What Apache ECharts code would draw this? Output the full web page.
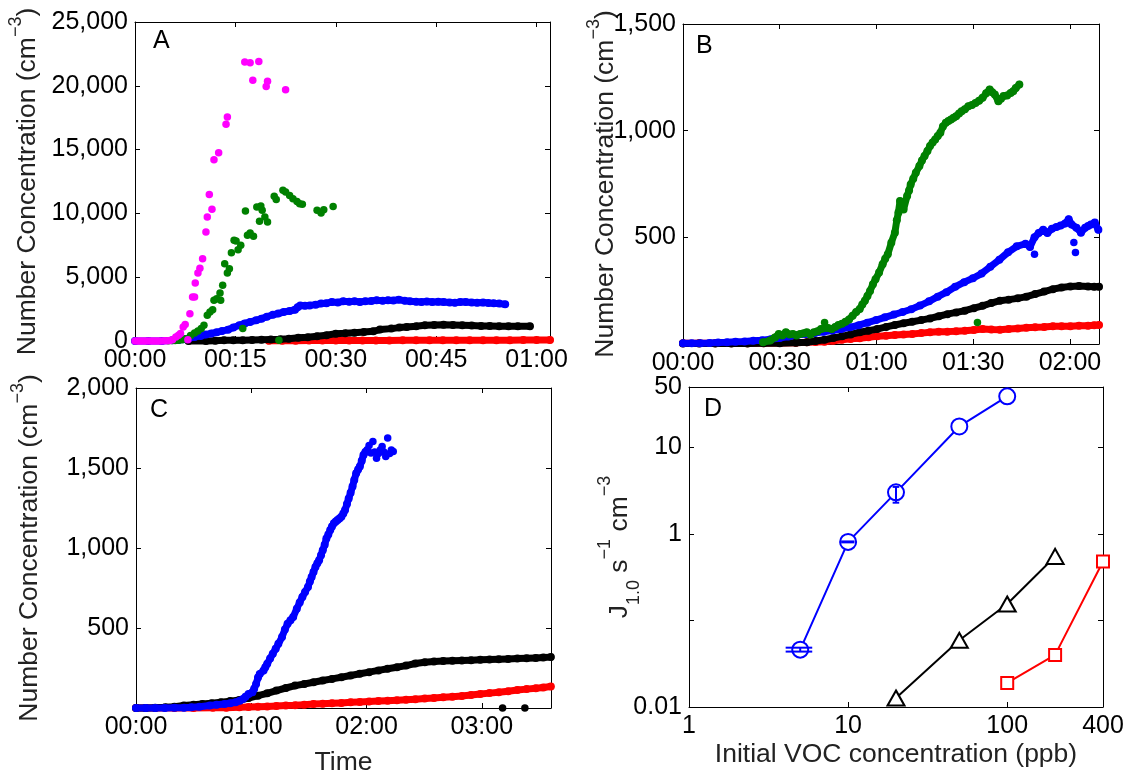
<!DOCTYPE html>
<html><head><meta charset="utf-8">
<script src="https://cdn.jsdelivr.net/npm/echarts@6/dist/echarts.min.js"></script>
<style>html,body{margin:0;padding:0;background:#fff}#c{width:1128px;height:770px}</style>
</head><body><div id="c"></div>
<script>
// ---------- DATA (time in minutes, concentration in cm^-3) ----------
const A_magenta = [[0,0],[0.4,0],[0.8,0],[1.2,0],[1.6,0],[2,0],[2.4,0],[2.8,0],[3.2,0],[3.6,0],[4,0],[4.4,10],[4.8,20],[5.2,40],[5.6,90],[6.1,310],[6.5,450],[6.8,580],[7.2,1100],[7.5,1300],[7.9,100],[8.2,2140],[8.6,3450],[8.9,3450],[9.0,4550],[9.4,5330],[9.7,5700],[10.1,6450],[10.6,8540],[10.8,9720],[11.1,11490],[11.5,10320],[11.8,14200],[12.5,14760],[13.6,16980],[13.8,17550],[16.4,21860],[17.2,21810],[17.6,20430],[18.5,21910],[19.6,19950],[19.8,20350],[22.5,19700]];
const A_green = [[5,20],[5.5,30],[6,40],[6.5,60],[7,100],[7.5,180],[8.3,440],[8.9,630],[9.4,780],[9.9,970],[10.3,1230],[10.8,2010],[11.2,2270],[11.6,2450],[11.8,3190],[12.2,3320],[12.7,3760],[12.8,3190],[13.1,4360],[13.4,6060],[13.8,5330],[14.1,5670],[14.4,6920],[14.8,7890],[15.1,7840],[15.4,7160],[15.8,7500],[16.1,970],[16.5,10190],[16.8,8280],[17.2,8460],[17.7,8200],[18.2,10500],[18.6,9380],[18.8,10580],[19.0,10240],[19.4,9720],[19.8,9330],[20.8,11340],[21.1,11080],[21.5,50],[22.1,11810],[22.5,11680],[23.1,11410],[23.6,11150],[24.2,10940],[24.6,10760],[25.0,10710],[27.2,10240],[27.8,10030],[28.2,10290],[29.6,10550]];
const A_blue = [[0,0],[2,0],[4,0],[5.6,50],[6.5,80],[7.2,130],[8,200],[8.9,310],[9.8,400],[10.6,500],[11.4,590],[12.2,680],[13,780],[13.9,890],[14.7,1050],[15.6,1230],[16.4,1380],[17.2,1490],[18.1,1620],[18.9,1750],[19.7,1900],[20.6,2060],[21.4,2150],[22.2,2270],[23.1,2350],[23.9,2450],[24.3,2650],[24.7,2790],[25.4,2760],[26.1,2790],[27,2850],[27.8,2930],[28.6,2950],[29.4,3060],[30.3,3020],[31.1,3110],[32,3080],[32.8,3110],[33.6,3060],[34.4,3110],[35.3,3130],[36.1,3190],[37,3150],[37.8,3190],[38.6,3180],[39.4,3240],[40.3,3150],[41.1,3110],[42,3080],[42.8,3060],[43.6,3100],[44.4,3060],[45.3,3080],[46.1,3060],[47,3020],[47.8,3000],[48.6,3050],[49.4,3060],[50.3,3020],[51.1,3000],[52,3020],[52.8,2980],[53.6,2950],[54.4,2930],[55.3,2880]];
const A_black = [[8,0],[10.6,0],[12,20],[13.3,50],[14.7,50],[16.1,50],[17.5,80],[18.9,100],[20.3,110],[21.7,130],[23,180],[24.4,260],[25.8,300],[27.2,370],[28.6,450],[30,575],[31.4,600],[32.8,650],[34.2,700],[35.6,760],[36.6,900],[38.3,970],[39.5,1050],[40.6,1100],[42,1150],[43.3,1230],[44.7,1250],[46.1,1280],[47.5,1250],[48.9,1230],[50.3,1210],[51.7,1180],[53,1170],[54.4,1150],[55.8,1150],[57.2,1160],[59,1150]];
const A_red = [[20,10],[22,20],[24,20],[26,30],[28,30],[30,30],[32,40],[34,40],[36,40],[38,40],[40,50],[42,50],[44,50],[46,50],[48,60],[50,60],[52,60],[54,60],[56,60],[58,70],[60,70],[62,70]];

const B_green = [[24.8,8],[27.0,16],[28.5,30],[29.7,47],[30.8,40],[31.9,55],[33,45],[34.1,47],[35.2,40],[36.3,47],[37.4,50],[38.4,55],[39.5,45],[40.6,55],[41.7,60],[42.8,70],[45,75],[46.1,70],[47.2,80],[48.2,89],[49.3,95],[50.4,104],[51.5,115],[52.6,133],[53.7,150],[54.8,164],[55.6,185],[56.4,203],[57.2,225],[58.0,249],[58.9,280],[59.7,304],[60.8,335],[61.9,374],[62.7,400],[63.5,421],[64.6,475],[65.7,522],[66.3,580],[66.8,616],[67.3,670],[68.4,631],[69.5,694],[70.1,720],[70.6,748],[71.4,775],[72.2,803],[73.3,834],[74.1,860],[74.9,881],[75.8,905],[76.6,928],[77.4,945],[78.2,959],[79.0,975],[79.8,990],[80.6,1020],[81.5,1037],[82.3,1045],[83.1,1052],[83.9,1060],[84.7,1068],[85.6,1080],[86.4,1091],[87.4,1100],[88.5,1115],[89.6,1120],[90.7,1130],[91.8,1140],[92.9,1154],[94,1175],[95.1,1193],[95.9,1180],[96.7,1169],[97.8,1138],[98.6,1150],[99.4,1162],[100.5,1165],[101.6,1177],[102.4,1185],[103.2,1200],[104.3,1216]];
const B_green_out = [[43.9,101],[91.3,101]];
const B_blue = [[0,3],[2.7,3],[5.4,4],[8.2,5],[10.9,7],[13.6,8],[16.3,10],[19.1,12],[21.8,15],[24.5,18],[27.2,22],[30,28],[32.7,35],[35.4,42],[38.1,47],[40.9,52],[43.6,57],[46.3,63],[49,70],[51.8,78],[54.5,88],[57.2,100],[59.9,112],[62.6,125],[65.4,138],[68.1,150],[70.8,163],[73.5,180],[76.3,200],[79,222],[81.7,243],[84.4,268],[87.2,290],[89.9,308],[92.6,330],[95.3,362],[98.1,395],[100.8,430],[103.5,458],[106.2,470],[107.6,455],[109,500],[110.3,520],[111.7,535],[113,520],[114.4,540],[115.8,548],[117.1,555],[118.5,565],[119.6,585],[120.5,560],[122,545],[123.4,522],[124.7,545],[125.6,553],[126.5,560],[127.7,569],[128.8,535]];
const B_blue_out = [[109,421],[121.2,476],[121.7,429]];
const B_black = [[0,2],[5,2],[10,2],[15,2],[20,2],[25,3],[30,4],[35,6],[38.4,8],[41.1,14],[43.9,20],[46.6,28],[49.3,36],[52,45],[54.8,55],[57.5,62],[60.2,70],[63,80],[65.7,89],[68.4,97],[71.1,104],[73.9,112],[76.6,120],[79.3,130],[82,140],[84.7,148],[87.4,156],[90.2,168],[92.9,179],[95.6,192],[98.3,203],[101,208],[103.8,214],[106.5,222],[109.2,234],[112,246],[114.7,257],[117.4,265],[120.1,270],[122.8,272],[125.6,270],[127.5,268],[129,268]];
const B_red = [[0,3],[5,3],[10,3],[15,3],[20,4],[25,4],[30,5],[35,6],[38.4,8],[41.1,9],[43.9,11],[46.6,15],[49.3,20],[52,24],[54.8,27],[57.5,32],[60.2,36],[63,39],[65.7,42],[68.4,45],[71.1,47],[73.9,51],[76.6,55],[79.3,57],[82,58],[84.7,60],[87.4,62],[90.2,66],[92.9,70],[95.6,68],[98.3,67],[101,70],[103.8,73],[106.5,76],[109.2,78],[112,80],[114.7,83],[117.4,83],[120.1,83],[122.8,85],[125.6,86],[127.5,88],[129,89]];

const C_blue = [[0,0],[5,0],[10,0],[15,0],[20,1],[25,2],[28.7,4],[33,8],[38.4,15],[42,20],[46.1,25],[49,30],[51.9,36],[54,45],[55.7,56],[57,70],[58.6,88],[60.6,98],[61.5,120],[62.5,150],[63.5,190],[64.4,213],[66.4,234],[67.3,255],[68.3,276],[69.8,310],[71.2,339],[72.7,370],[74.1,401],[76,443],[77.5,490],[78.9,527],[80.4,548],[81.8,568],[83.7,621],[85.2,660],[86.6,694],[88,725],[89.5,757],[90.5,790],[91.4,819],[92.4,850],[93.4,882],[94.4,905],[95.3,924],[96.3,955],[97.2,986],[98.2,1020],[99.1,1060],[100.1,1085],[101.1,1112],[102,1135],[103,1154],[104,1165],[104.9,1175],[105.9,1185],[106.9,1195],[107.9,1215],[108.8,1237],[109.8,1275],[110.7,1310],[111.7,1345],[112.7,1384],[113.6,1425],[114.6,1467],[115.6,1490],[116.5,1509],[117.5,1545],[118.4,1582],[119.4,1600],[120.4,1613]];
const C_blue_tail = [[121.3,1640],[122.3,1593],[123.3,1666],[124.2,1600],[125.2,1561],[126.2,1590],[127.1,1613],[128.1,1634],[129,1600],[130,1572],[131,1687],[132,1590],[132.9,1613],[133.9,1603]];
const C_black = [[0,0],[5,0],[10,2],[15.2,4],[20,8],[24.9,15],[30,20],[34.5,25],[39.4,30],[44.2,36],[49,43],[53.8,50],[58.6,62],[63.5,77],[68.3,92],[73.1,109],[78,125],[82.8,140],[87.6,150],[92.4,161],[97.2,172],[102,182],[106.9,192],[111.7,203],[116.5,214],[121.3,224],[126.2,235],[131,245],[135.8,255],[140.6,265],[145.4,278],[150.3,286],[155.1,290],[159.9,293],[164.7,295],[169.6,297],[174.4,299],[179.2,301],[184,303],[188.8,305],[193.7,307],[198.5,309],[203.3,311],[208.1,313],[212,315],[215.9,318]];
const C_red = [[0,0],[10,0],[20,0],[30,0],[40,1],[47,2],[53.8,4],[58.6,6],[63.5,8],[68.3,10],[73.1,13],[78,15],[82.8,17],[87.6,21],[92.4,25],[97.2,27],[102,29],[106.9,32],[111.7,36],[116.5,38],[121.3,40],[126.2,43],[131,46],[135.8,49],[140.6,52],[145.4,55],[150.3,59],[155.1,63],[159.9,67],[164.7,71],[169.6,75],[174.4,81],[179.2,88],[184,93],[188.8,98],[193.7,105],[198.5,113],[203.3,118],[208.1,123],[212,128],[215.9,134]];
const C_black_dots = [[190.8,0],[202.4,0]];

// Panel D: initial VOC (ppb) vs J1.0 (s^-1 cm^-3)
const D_x_blue = [5,10,20,50,100];
const D_y_blue = [0.046,0.81,3.03,17.5,39];
const D_err_blue = [[5,0.0437,0.0485],[10,0.80,0.82],[20,2.3,3.5]];
const D_err_tee = 0.95; // half cap width in ppb (data units)
const D_x_black = [20,50,100,200];
const D_y_black = [0.0127,0.059,0.155,0.55];
const D_x_red = [100,200,400];
const D_y_red = [0.019,0.040,0.48];

// ---------- helpers ----------
const FONT = '"Liberation Sans", Arial, Helvetica, sans-serif';
const FS = 25, FT = 26.5;
const TXT = '#222';
const pad = n => String(n).padStart(2,'0');
const hhmm = v => pad(Math.floor(v/60)) + ':' + pad(Math.round(v%60));
const zip = (xs, ys) => xs.map((x,i) => [x, ys[i]]);

const axisLine = {show:true, onZero:false, lineStyle:{color:'#000', width:1}};
const axisTick = {show:true, inside:true, length:5, lineStyle:{color:'#000', width:1}};
const lbl = (fmt, extra) => Object.assign({show:true, color:'#000', fontSize:FS, fontFamily:FONT, margin:7, formatter:fmt}, extra||{});

function timeX(g, max, step, name, gap) {
  const bottom = {type:'value', gridIndex:g, position:'bottom', min:0, max:max, interval:step,
    axisLine, axisTick, splitLine:{show:false},
    axisLabel: lbl(v => (Math.abs(v % step) < 1e-9 ? hhmm(v) : '')),
    name: name||'', nameLocation:'middle', nameGap: gap||30, nameMoveOverlap:false,
    nameTextStyle:{fontSize:FT, fontFamily:FONT, color:TXT}};
  const top = {type:'value', gridIndex:g, position:'top', min:0, max:max, interval:step,
    axisLine, axisTick, axisLabel:{show:false}, splitLine:{show:false}};
  return [bottom, top];
}
const supRich = {sup:{fontSize:18, lineHeight:18, verticalAlign:'top', fontFamily:FONT, color:TXT}};
function concY(g, max, step, showZero, gap) {
  const left = {type:'value', gridIndex:g, position:'left', min:0, max:max, interval:step,
    axisLine, axisTick, splitLine:{show:false},
    axisLabel: lbl(v => (v===0 && !showZero) ? '' : v.toLocaleString('en-US')),
    name:'Number Concentration (cm{sup|\u22123})', nameLocation:'middle', nameGap:gap, nameMoveOverlap:false,
    nameTextStyle:{fontSize:FT, fontFamily:FONT, color:TXT, lineHeight:41, rich:supRich}};
  const right = {type:'value', gridIndex:g, position:'right', min:0, max:max, interval:step,
    axisLine, axisTick, axisLabel:{show:false}, splitLine:{show:false}};
  return [left, right];
}
function band(data, color, g, z) {
  return {type:'line', xAxisIndex:2*g, yAxisIndex:2*g, data, symbol:'circle', symbolSize:8,
    showSymbol:true, showAllSymbol:true, clip:false, z:z,
    lineStyle:{width:7, color, join:'round', cap:'round'}, itemStyle:{color}, emphasis:{disabled:true}};
}
function dots(data, color, g, z) {
  return {type:'scatter', xAxisIndex:2*g, yAxisIndex:2*g, data, symbol:'circle', symbolSize:7.5,
    clip:false, z:z, itemStyle:{color, opacity:1}, emphasis:{disabled:true}};
}

const MAG='#ff00ff', GRN='#008000', BLU='#0000ff', BLK='#000000', RED='#ff0000';

const [ax0b, ax0t] = timeX(0, 62, 15);
const [ax1b, ax1t] = timeX(1, 129, 30);
const [ax2b, ax2t] = timeX(2, 216, 60, 'Time', 41);
const [ay0l, ay0r] = concY(0, 25000, 5000, true, 87);
const [ay1l, ay1r] = concY(1, 1500, 500, false, 57);
const [ay2l, ay2r] = concY(2, 2000, 500, false, 86);

const logXfmt = v => String(Math.round(v));
const logYfmt = v => { const l = Math.log10(v); if (Math.abs(l + 1) < 1e-6) return ''; return v < 1 ? v.toFixed(2) : String(Math.round(v)); };
const ax3b = {type:'log', logBase:10, gridIndex:3, position:'bottom', min:1, max:400,
  axisLine, axisTick, splitLine:{show:false}, minorTick:{show:false}, axisLabel: lbl(logXfmt),
  name:'Initial VOC concentration (ppb)', nameLocation:'middle', nameGap:34, nameMoveOverlap:false,
  nameTextStyle:{fontSize:FT, fontFamily:FONT, color:TXT}};
const ax3t = {type:'log', logBase:10, gridIndex:3, position:'top', min:1, max:400,
  axisLine, axisTick, axisLabel:{show:false}, splitLine:{show:false}};
const ay3l = {type:'log', logBase:10, gridIndex:3, position:'left', min:0.01, max:50,
  axisLine, axisTick, splitLine:{show:false}, axisLabel: lbl(logYfmt),
  name:'J{sub|1.0} s{sup|\u22121} cm{sup|\u22123}', nameLocation:'middle', nameGap:46, nameMoveOverlap:false,
  nameTextStyle:{fontSize:FT, fontFamily:FONT, color:TXT, lineHeight:47,
    rich:{sup:{fontSize:18, lineHeight:18, verticalAlign:'top', fontFamily:FONT, color:TXT},
          sub:{fontSize:18, lineHeight:18, verticalAlign:'bottom', fontFamily:FONT, color:TXT}}}};
const ay3r = {type:'log', logBase:10, gridIndex:3, position:'right', min:0.01, max:50,
  axisLine, axisTick, axisLabel:{show:false}, splitLine:{show:false}};

function dline(xs, ys, color, symbol, size) {
  return {type:'line', xAxisIndex:6, yAxisIndex:6, data: zip(xs, ys), symbol, symbolSize:size,
    showSymbol:true, showAllSymbol:true, clip:false, z:5,
    lineStyle:{width:2, color}, itemStyle:{color, borderWidth:2}, emphasis:{disabled:true}};
}
const errSeries = {type:'custom', xAxisIndex:6, yAxisIndex:6, data:D_err_blue, clip:false, z:6,
  encode:{x:0, y:[1,2]},
  renderItem:(params, api) => {
    const x = api.value(0), lo = api.value(1), hi = api.value(2);
    const a = api.coord([x, lo]), b = api.coord([x, hi]);
    const aL = api.coord([x - D_err_tee, lo]), aR = api.coord([x + D_err_tee, lo]);
    const bL = api.coord([x - D_err_tee, hi]), bR = api.coord([x + D_err_tee, hi]);
    const style = {stroke:BLU, lineWidth:2, fill:null};
    return {type:'group', children:[
      {type:'line', shape:{x1:a[0], y1:a[1], x2:b[0], y2:b[1]}, style},
      {type:'line', shape:{x1:aL[0], y1:aL[1], x2:aR[0], y2:aR[1]}, style},
      {type:'line', shape:{x1:bL[0], y1:bL[1], x2:bR[0], y2:bR[1]}, style}
    ]};
  }};

const letter = (t, left, top) => ({text:t, left, top, textStyle:{fontSize:25, fontWeight:'normal', fontFamily:FONT, color:'#000'}});
const G = (left, top, width, height) => ({left, top, width, height, containLabel:false, outerBoundsMode:'none'});

const option = {
  animation:false,
  backgroundColor:'#fff',
  title:[letter('A',148,24), letter('B',691,29), letter('C',145,393), letter('D',699,392)],
  grid:[G(135,22,415,319), G(683,24,416,320), G(136,388,415,320), G(689,387,414,320)],
  xAxis:[ax0b, ax0t, ax1b, ax1t, ax2b, ax2t, ax3b, ax3t],
  yAxis:[ay0l, ay0r, ay1l, ay1r, ay2l, ay2r, ay3l, ay3r],
  series:[
    band(A_red, RED, 0, 2), band(A_black, BLK, 0, 3), band(A_blue, BLU, 0, 4),
    dots(A_green, GRN, 0, 5), dots(A_magenta, MAG, 0, 6),
    band(B_red, RED, 1, 2), band(B_black, BLK, 1, 3), band(B_blue, BLU, 1, 4), dots(B_blue_out, BLU, 1, 4),
    band(B_green, GRN, 1, 5), dots(B_green_out, GRN, 1, 5),
    band(C_red, RED, 2, 2), band(C_black, BLK, 2, 3), dots(C_black_dots, BLK, 2, 3),
    band(C_blue, BLU, 2, 4), dots(C_blue_tail, BLU, 2, 4),
    dline(D_x_blue, D_y_blue, BLU, 'emptyCircle', 16),
    dline(D_x_black, D_y_black, BLK, 'emptyTriangle', [17,15]),
    dline(D_x_red, D_y_red, RED, 'emptyRect', 12),
    errSeries
  ]
};
const chart = echarts.init(document.getElementById('c'), null, {renderer:'canvas'});
chart.setOption(option);
</script></body></html>
